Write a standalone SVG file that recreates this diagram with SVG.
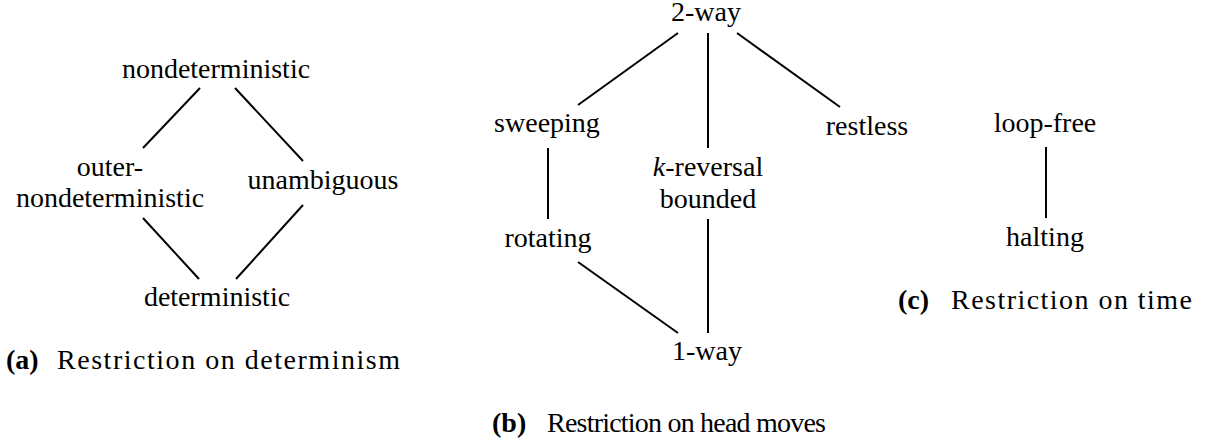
<svg xmlns="http://www.w3.org/2000/svg" width="1207" height="443" viewBox="0 0 1207 443">
<style>
text{font-family:"Times New Roman","Liberation Serif",serif;font-size:28px;fill:#000}
.n{text-anchor:middle}
.b{font-weight:bold}
#edges line{stroke:#000;stroke-width:2}
</style>
<rect width="1207" height="443" fill="#fff"/>
<g id="edges">
<line x1="200" y1="88" x2="143" y2="148"/>
<line x1="235" y1="88" x2="303" y2="161"/>
<line x1="143" y1="218" x2="199" y2="279"/>
<line x1="303" y1="205" x2="236" y2="279"/>
<line x1="678" y1="33" x2="578" y2="105"/>
<line x1="708" y1="33" x2="708" y2="148"/>
<line x1="737" y1="33" x2="840" y2="107"/>
<line x1="548" y1="148" x2="548" y2="219"/>
<line x1="708" y1="219" x2="708" y2="333"/>
<line x1="578" y1="262" x2="678" y2="333"/>
<line x1="1046" y1="147" x2="1046" y2="218"/>
</g>
<g id="nondeterministic"><text class="n" x="216" y="78">nondeterministic</text></g>
<g id="outer"><text class="n" x="110" y="176">outer-</text><text class="n" x="110" y="207">nondeterministic</text></g>
<g id="unambiguous"><text class="n" x="323" y="189">unambiguous</text></g>
<g id="deterministic"><text class="n" x="217" y="306">deterministic</text></g>
<g id="twoway"><text class="n" x="706" y="21">2-way</text></g>
<g id="sweeping"><text class="n" x="547" y="132">sweeping</text></g>
<g id="restless"><text class="n" x="867" y="135">restless</text></g>
<g id="kreversal"><text class="n" x="708" y="176"><tspan font-style="italic">k</tspan>-reversal</text><text class="n" x="708" y="208">bounded</text></g>
<g id="rotating"><text class="n" x="548" y="247">rotating</text></g>
<g id="oneway"><text class="n" x="707" y="360">1-way</text></g>
<g id="loopfree"><text class="n" x="1045" y="132">loop-free</text></g>
<g id="halting"><text class="n" x="1045" y="246">halting</text></g>
<g id="captions">
<text class="b" x="6" y="369">(a)</text>
<text x="57" y="369" textLength="343">Restriction on determinism</text>
<text class="b" x="492" y="432">(b)</text>
<text x="547" y="432" textLength="279">Restriction on head moves</text>
<text class="b" x="898" y="309">(c)</text>
<text x="951" y="309" textLength="241">Restriction on time</text>
</g>
</svg>
